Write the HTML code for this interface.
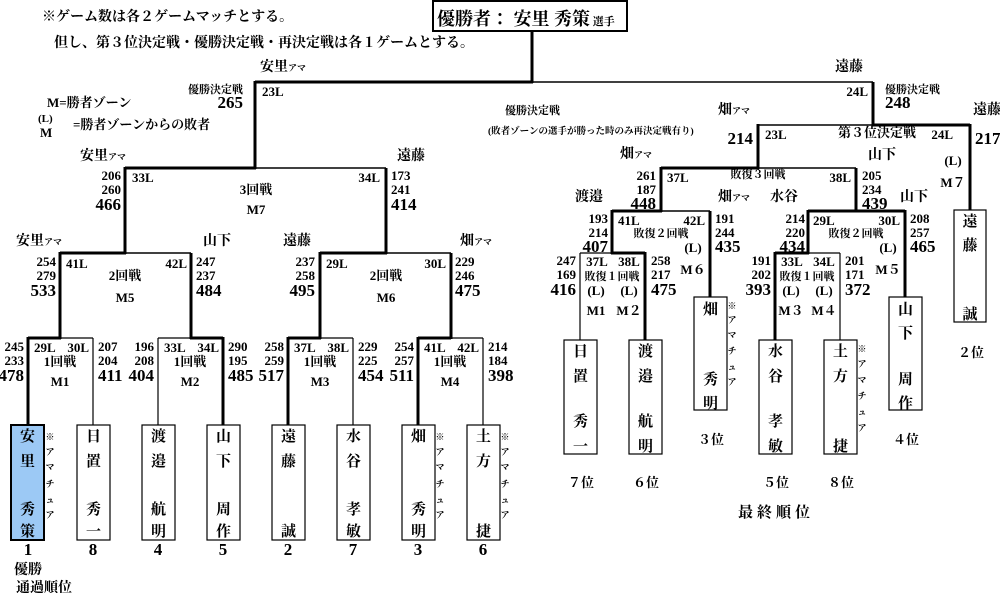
<!DOCTYPE html>
<html><head><meta charset="utf-8"><style>
html,body{margin:0;padding:0;background:#fff;}
svg{display:block;font-family:"Liberation Serif","Noto Serif CJK JP",serif;font-weight:bold;}
.s{font-size:13px}.t{font-size:17px}.n{font-size:14px}.v{font-size:15px}.a{font-size:9px}.x{font-size:11px}
line,rect{stroke:#000}
</style></head><body>
<svg width="1000" height="593" viewBox="0 0 1000 593" xmlns="http://www.w3.org/2000/svg">
<g fill="none" stroke="#000">
<rect x="433" y="1" width="194" height="30" stroke-width="2"/>
<line x1="532" y1="31" x2="532" y2="83" stroke-width="3"/>
<line x1="255" y1="82" x2="533" y2="82" stroke-width="3"/>
<line x1="532" y1="82" x2="873" y2="82" stroke-width="1.5"/>
<line x1="255" y1="81" x2="255" y2="169" stroke-width="3"/>
<line x1="873" y1="82" x2="873" y2="126" stroke-width="3"/>
<line x1="125" y1="168" x2="256" y2="168" stroke-width="3"/>
<line x1="255" y1="168" x2="386" y2="168" stroke-width="1.5"/>
<line x1="125" y1="167" x2="125" y2="254" stroke-width="3"/>
<line x1="386" y1="168" x2="386" y2="254" stroke-width="3"/>
<line x1="60" y1="253" x2="126" y2="253" stroke-width="3"/>
<line x1="125" y1="253" x2="191" y2="253" stroke-width="1.5"/>
<line x1="60" y1="252" x2="60" y2="339" stroke-width="3"/>
<line x1="191" y1="253" x2="191" y2="339" stroke-width="3"/>
<line x1="320" y1="253" x2="387" y2="253" stroke-width="3"/>
<line x1="386" y1="253" x2="451" y2="253" stroke-width="1.5"/>
<line x1="320" y1="252" x2="320" y2="339" stroke-width="3"/>
<line x1="451" y1="253" x2="451" y2="339" stroke-width="3"/>
<line x1="28" y1="338" x2="61" y2="338" stroke-width="3"/><line x1="60" y1="338" x2="93" y2="338" stroke-width="1.2"/>
<line x1="28" y1="337" x2="28" y2="425" stroke-width="3"/><line x1="93" y1="338" x2="93" y2="425" stroke-width="1.2"/>
<line x1="158" y1="338" x2="191" y2="338" stroke-width="1.2"/><line x1="190" y1="338" x2="223" y2="338" stroke-width="3"/>
<line x1="158" y1="338" x2="158" y2="425" stroke-width="1.2"/><line x1="223" y1="337" x2="223" y2="425" stroke-width="3"/>
<line x1="288" y1="338" x2="321" y2="338" stroke-width="3"/><line x1="320" y1="338" x2="353" y2="338" stroke-width="1.2"/>
<line x1="288" y1="337" x2="288" y2="425" stroke-width="3"/><line x1="353" y1="338" x2="353" y2="425" stroke-width="1.2"/>
<line x1="418" y1="338" x2="451" y2="338" stroke-width="3"/><line x1="450" y1="338" x2="483" y2="338" stroke-width="1.2"/>
<line x1="418" y1="337" x2="418" y2="425" stroke-width="3"/><line x1="483" y1="338" x2="483" y2="425" stroke-width="1.2"/>
<rect x="11" y="425" width="33" height="115" fill="#9cc9f5" stroke-width="2"/>
<rect x="77" y="425" width="33" height="115" stroke-width="1.2"/>
<rect x="142" y="425" width="33" height="115" stroke-width="1.2"/>
<rect x="207" y="425" width="33" height="115" stroke-width="1.2"/>
<rect x="272" y="425" width="33" height="115" stroke-width="1.2"/>
<rect x="337" y="425" width="33" height="115" stroke-width="1.2"/>
<rect x="402" y="425" width="33" height="115" stroke-width="1.2"/>
<rect x="467" y="425" width="33" height="115" stroke-width="1.2"/>
<line x1="758" y1="125" x2="873" y2="125" stroke-width="1.5"/>
<line x1="872" y1="125" x2="970" y2="125" stroke-width="3"/>
<line x1="970" y1="124" x2="970" y2="210" stroke-width="3"/>
<line x1="758" y1="124" x2="758" y2="169" stroke-width="3"/>
<line x1="661" y1="168" x2="759" y2="168" stroke-width="3"/>
<line x1="758" y1="168" x2="856" y2="168" stroke-width="1.5"/>
<line x1="661" y1="167" x2="661" y2="212" stroke-width="3"/>
<line x1="856" y1="168" x2="856" y2="212" stroke-width="3"/>
<line x1="612" y1="211" x2="662" y2="211" stroke-width="3"/>
<line x1="661" y1="211" x2="710" y2="211" stroke-width="1.5"/>
<line x1="612" y1="210" x2="612" y2="254" stroke-width="3"/>
<line x1="710" y1="211" x2="710" y2="297" stroke-width="3"/>
<line x1="808" y1="211" x2="905" y2="211" stroke-width="3"/>
<line x1="808" y1="210" x2="808" y2="254" stroke-width="3"/>
<line x1="905" y1="210" x2="905" y2="297" stroke-width="3"/>
<line x1="580" y1="253" x2="613" y2="253" stroke-width="1.2"/>
<line x1="611" y1="253" x2="645" y2="253" stroke-width="3"/>
<line x1="580" y1="253" x2="580" y2="340" stroke-width="1.2"/>
<line x1="645" y1="252" x2="645" y2="340" stroke-width="3"/>
<line x1="775" y1="253" x2="809" y2="253" stroke-width="3"/>
<line x1="807" y1="253" x2="840" y2="253" stroke-width="1.2"/>
<line x1="775" y1="252" x2="775" y2="340" stroke-width="3"/>
<line x1="840" y1="253" x2="840" y2="340" stroke-width="1.2"/>
<rect x="564" y="340" width="33" height="114" stroke-width="1.2"/>
<rect x="629" y="340" width="33" height="114" stroke-width="1.2"/>
<rect x="694" y="297" width="33" height="113" stroke-width="1.2"/>
<rect x="759" y="340" width="33" height="114" stroke-width="1.2"/>
<rect x="824" y="340" width="33" height="114" stroke-width="1.2"/>
<rect x="889" y="297" width="33" height="113" stroke-width="1.2"/>
<rect x="954" y="210" width="32" height="112" stroke-width="1.2"/>
</g>

<text x="42" y="21" font-size="14">※ゲーム数は各２ゲームマッチとする。</text>
<text x="54" y="47" font-size="14">但し、第３位決定戦・優勝決定戦・再決定戦は各１ゲームとする。</text>
<text x="437" y="25" font-size="18">優勝者： 安里 秀策<tspan font-size="11"> 選手</tspan></text>

<text class="n" x="260" y="71">安里<tspan font-size="9">アマ</tspan></text>
<text class="x" x="243" y="93" text-anchor="end">優勝決定戦</text>
<text class="t" x="243" y="108" text-anchor="end">265</text>
<text class="s" x="262" y="96">23L</text>
<text class="n" x="835" y="71">遠藤</text>
<text class="s" x="868" y="96" text-anchor="end">24L</text>
<text class="x" x="885" y="93">優勝決定戦</text>
<text class="t" x="885" y="108">248</text>

<text class="s" x="47" y="107">M=勝者ゾーン</text>
<text class="x" x="38" y="122">(L)</text>
<text class="s" x="40" y="137">M</text>
<text class="s" x="73" y="129">=勝者ゾーンからの敗者</text>

<text class="n" x="80" y="160">安里<tspan font-size="9">アマ</tspan></text>
<text class="n" x="397" y="160">遠藤</text>
<g class="s" text-anchor="end"><text x="121" y="180">206</text><text x="121" y="194">260</text></g>
<text class="t" x="121" y="210" text-anchor="end">466</text>
<text class="s" x="132" y="182">33L</text>
<text class="s" x="380" y="182" text-anchor="end">34L</text>
<text class="s" x="256" y="194" text-anchor="middle">3回戦</text>
<text class="s" x="256" y="214" text-anchor="middle">M7</text>
<g class="s"><text x="391" y="180">173</text><text x="391" y="194">241</text></g>
<text class="t" x="391" y="210">414</text>

<text class="n" x="16" y="245">安里<tspan font-size="9">アマ</tspan></text>
<text class="n" x="203" y="245">山下</text>
<text class="n" x="283" y="245">遠藤</text>
<text class="n" x="460" y="245">畑<tspan font-size="9">アマ</tspan></text>
<g class="s" text-anchor="end"><text x="56" y="266">254</text><text x="56" y="280">279</text><text x="315" y="266">237</text><text x="315" y="280">258</text></g>
<g class="t" text-anchor="end"><text x="56" y="296">533</text><text x="315" y="296">495</text></g>
<g class="s"><text x="196" y="266">247</text><text x="196" y="280">237</text><text x="455" y="266">229</text><text x="455" y="280">246</text>
<text x="66" y="268">41L</text><text x="326" y="268">29L</text></g>
<g class="t"><text x="196" y="296">484</text><text x="455" y="296">475</text></g>
<g class="s" text-anchor="end"><text x="187" y="268">42L</text><text x="446" y="268">30L</text></g>
<g class="s" text-anchor="middle"><text x="125" y="280">2回戦</text><text x="125" y="302">M5</text><text x="386" y="280">2回戦</text><text x="386" y="302">M6</text></g>

<g class="s" text-anchor="end">
<text x="24" y="351">245</text><text x="24" y="365">233</text>
<text x="154" y="351">196</text><text x="154" y="365">208</text>
<text x="284" y="351">258</text><text x="284" y="365">259</text>
<text x="414" y="351">254</text><text x="414" y="365">257</text>
<text x="89" y="352">30L</text><text x="219" y="352">34L</text><text x="349" y="352">38L</text><text x="479" y="352">42L</text>
</g>
<g class="t" text-anchor="end"><text x="24" y="381">478</text><text x="154" y="381">404</text><text x="284" y="381">517</text><text x="414" y="381">511</text></g>
<g class="s">
<text x="98" y="351">207</text><text x="98" y="365">204</text>
<text x="228" y="351">290</text><text x="228" y="365">195</text>
<text x="358" y="351">229</text><text x="358" y="365">225</text>
<text x="488" y="351">214</text><text x="488" y="365">184</text>
<text x="34" y="352">29L</text><text x="164" y="352">33L</text><text x="294" y="352">37L</text><text x="424" y="352">41L</text>
</g>
<g class="t"><text x="98" y="381">411</text><text x="228" y="381">485</text><text x="358" y="381">454</text><text x="488" y="381">398</text></g>
<g class="s" text-anchor="middle">
<text x="60" y="366">1回戦</text><text x="60" y="386">M1</text>
<text x="190" y="366">1回戦</text><text x="190" y="386">M2</text>
<text x="320" y="366">1回戦</text><text x="320" y="386">M3</text>
<text x="450" y="366">1回戦</text><text x="450" y="386">M4</text>
</g>

<g class="v" text-anchor="middle">
<text x="27.5" y="441">安</text><text x="27.5" y="466">里</text><text x="27.5" y="514">秀</text><text x="27.5" y="536">策</text>
<text x="93.5" y="441">日</text><text x="93.5" y="466">置</text><text x="93.5" y="514">秀</text><text x="93.5" y="536">一</text>
<text x="158.5" y="441">渡</text><text x="158.5" y="466">邉</text><text x="158.5" y="514">航</text><text x="158.5" y="536">明</text>
<text x="223.5" y="441">山</text><text x="223.5" y="466">下</text><text x="223.5" y="514">周</text><text x="223.5" y="536">作</text>
<text x="288.5" y="441">遠</text><text x="288.5" y="466">藤</text><text x="288.5" y="536">誠</text>
<text x="353.5" y="441">水</text><text x="353.5" y="466">谷</text><text x="353.5" y="514">孝</text><text x="353.5" y="536">敏</text>
<text x="418.5" y="441">畑</text><text x="418.5" y="514">秀</text><text x="418.5" y="536">明</text>
<text x="483.5" y="441">土</text><text x="483.5" y="466">方</text><text x="483.5" y="536">捷</text>
</g>
<g class="a" text-anchor="middle">
<text x="50" y="440">※</text><text x="50" y="455">ア</text><text x="50" y="470">マ</text><text x="50" y="487">チ</text><text x="50" y="503">ュ</text><text x="50" y="518">ア</text>
<text x="440" y="440">※</text><text x="440" y="455">ア</text><text x="440" y="470">マ</text><text x="440" y="487">チ</text><text x="440" y="503">ュ</text><text x="440" y="518">ア</text>
<text x="505" y="440">※</text><text x="505" y="455">ア</text><text x="505" y="470">マ</text><text x="505" y="487">チ</text><text x="505" y="503">ュ</text><text x="505" y="518">ア</text>
</g>
<g class="t" text-anchor="middle">
<text x="28" y="555">1</text><text x="93" y="555">8</text><text x="158" y="555">4</text><text x="223" y="555">5</text>
<text x="288" y="555">2</text><text x="353" y="555">7</text><text x="418" y="555">3</text><text x="483" y="555">6</text>
</g>
<text class="n" x="14" y="574">優勝</text>
<text class="n" x="16" y="592">通過順位</text>

<text class="x" x="505" y="114">優勝決定戦</text>
<text font-size="9.5" x="488" y="134">(敗者ゾーンの選手が勝った時のみ再決定戦有り)</text>
<text class="n" x="718" y="114">畑<tspan font-size="9">アマ</tspan></text>
<text class="t" x="753" y="144" text-anchor="end">214</text>
<text class="s" x="765" y="139">23L</text>
<text class="s" x="838" y="137">第３位決定戦</text>
<text class="s" x="953" y="139" text-anchor="end">24L</text>
<text class="n" x="973" y="114">遠藤</text>
<text class="t" x="975" y="144">217</text>
<text class="n" x="620" y="158">畑<tspan font-size="9">アマ</tspan></text>
<text class="n" x="868" y="159">山下</text>
<g class="s" text-anchor="middle"><text x="953" y="165">(L)</text><text x="953" y="187">M７</text></g>

<g class="s" text-anchor="end"><text x="656" y="180">261</text><text x="656" y="194">187</text><text x="851" y="182">38L</text></g>
<text class="t" x="656" y="209" text-anchor="end">448</text>
<text class="s" x="667" y="182">37L</text>
<text class="x" x="758" y="178" text-anchor="middle">敗復３回戦</text>
<g class="s"><text x="862" y="180">205</text><text x="862" y="194">234</text></g>
<text class="t" x="862" y="209">439</text>
<text class="n" x="718" y="201">畑<tspan font-size="9">アマ</tspan></text>
<text class="n" x="770" y="201">水谷</text>
<text class="n" x="900" y="201">山下</text>
<text class="n" x="575" y="201">渡邉</text>

<g class="s" text-anchor="end">
<text x="608" y="223">193</text><text x="608" y="237">214</text>
<text x="805" y="223">214</text><text x="805" y="237">220</text>
<text x="705" y="225">42L</text><text x="900" y="225">30L</text>
</g>
<g class="t" text-anchor="end"><text x="608" y="252">407</text><text x="805" y="252">434</text></g>
<g class="s">
<text x="618" y="225">41L</text><text x="813" y="225">29L</text>
<text x="715" y="223">191</text><text x="715" y="237">244</text>
<text x="910" y="223">208</text><text x="910" y="237">257</text>
</g>
<g class="t"><text x="715" y="252">435</text><text x="910" y="252">465</text></g>
<g class="x" text-anchor="middle"><text x="661" y="237">敗復２回戦</text><text x="856" y="237">敗復２回戦</text></g>
<g class="s" text-anchor="middle">
<text x="693" y="252">(L)</text><text x="693" y="274">M６</text>
<text x="888" y="252">(L)</text><text x="888" y="274">M５</text>
</g>

<g class="s" text-anchor="end"><text x="576" y="265">247</text><text x="576" y="279">169</text><text x="771" y="265">191</text><text x="771" y="279">202</text></g>
<g class="t" text-anchor="end"><text x="576" y="295">416</text><text x="771" y="295">393</text></g>
<g class="s"><text x="651" y="265">258</text><text x="651" y="279">217</text><text x="845" y="265">201</text><text x="845" y="279">171</text></g>
<g class="t"><text x="651" y="295">475</text><text x="845" y="295">372</text></g>
<g class="s" text-anchor="middle">
<text x="597" y="266">37L</text><text x="629" y="266">38L</text>
<text x="792" y="266">33L</text><text x="824" y="266">34L</text>
<text x="596" y="295">(L)</text><text x="629" y="295">(L)</text>
<text x="791" y="295">(L)</text><text x="824" y="295">(L)</text>
<text x="596" y="315">M1</text><text x="629" y="315">M２</text>
<text x="791" y="315">M３</text><text x="824" y="315">M４</text>
</g>
<g class="x" text-anchor="middle"><text x="612" y="280">敗復１回戦</text><text x="807" y="280">敗復１回戦</text></g>

<g class="v" text-anchor="middle">
<text x="580.5" y="356">日</text><text x="580.5" y="381">置</text><text x="580.5" y="426">秀</text><text x="580.5" y="451">一</text>
<text x="645.5" y="356">渡</text><text x="645.5" y="381">邉</text><text x="645.5" y="426">航</text><text x="645.5" y="451">明</text>
<text x="710.5" y="314">畑</text><text x="710.5" y="384">秀</text><text x="710.5" y="408">明</text>
<text x="775.5" y="356">水</text><text x="775.5" y="381">谷</text><text x="775.5" y="426">孝</text><text x="775.5" y="451">敏</text>
<text x="840.5" y="356">土</text><text x="840.5" y="381">方</text><text x="840.5" y="451">捷</text>
<text x="905.5" y="314">山</text><text x="905.5" y="338">下</text><text x="905.5" y="384">周</text><text x="905.5" y="408">作</text>
<text x="970" y="226">遠</text><text x="970" y="250">藤</text><text x="970" y="319">誠</text>
</g>
<g class="a" text-anchor="middle">
<text x="732" y="309">※</text><text x="732" y="323">ア</text><text x="732" y="338">マ</text><text x="732" y="354">チ</text><text x="732" y="370">ュ</text><text x="732" y="385">ア</text>
<text x="862" y="352">※</text><text x="862" y="367">ア</text><text x="862" y="383">マ</text><text x="862" y="399">チ</text><text x="862" y="415">ュ</text><text x="862" y="431">ア</text>
</g>
<g class="s" text-anchor="middle">
<text x="581" y="487">７位</text><text x="646" y="487">６位</text><text x="776" y="487">５位</text><text x="841" y="487">８位</text>
<text x="711" y="444">３位</text><text x="906" y="444">４位</text><text x="971" y="357">２位</text>
</g>
<text x="776" y="517" font-size="15" text-anchor="middle" letter-spacing="4">最終順位</text>
</svg>
</body></html>
